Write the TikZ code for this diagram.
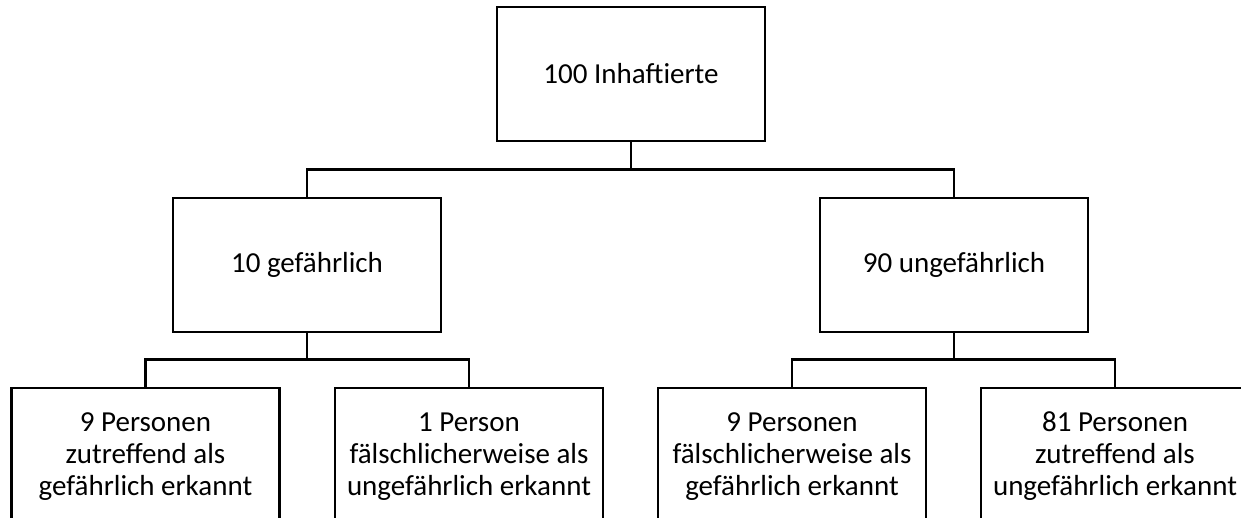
\documentclass[tikz,border=0pt]{standalone}
\usepackage{fontspec}
\setmainfont{Carlito}
\begin{document}
\begin{tikzpicture}[x=1pt,y=-1pt,
  box/.style={draw=black, line width=2.6pt, rectangle, minimum width=268pt, minimum height=134pt, inner sep=0pt, align=center, font=\fontsize{29}{32}\selectfont},
  leafbox/.style={box, minimum height=137pt},
  conn/.style={draw=black, line width=2.6pt}]
\useasboundingbox (0,0) rectangle (1241,518);
\fill[white] (0,0) rectangle (1241,518);
\begin{scope}
\clip (0,0) rectangle (1241,518);
\node[box] (top) at (631,74) {100 Inhaftierte};
\node[box] (g) at (307,265) {10 gefährlich};
\node[box] (u) at (954,265) {90 ungefährlich};
\node[leafbox] (g1) at (145.5,456.5) {9 Personen\\zutreffend als\\gefährlich erkannt};
\node[leafbox] (g2) at (469,456.5) {1 Person\\fälschlicherweise als\\ungefährlich erkannt};
\node[leafbox] (u1) at (792,456.5) {9 Personen\\fälschlicherweise als\\gefährlich erkannt};
\node[leafbox] (u2) at (1115,456.5) {81 Personen\\zutreffend als\\ungefährlich erkannt};
\coordinate (j1) at (631,169.5);
\coordinate (j2) at (307,359.5);
\coordinate (j3) at (954,359.5);
\draw[conn] (top.south) -- (j1);
\draw[conn] (g.north) |- (j1) -| (u.north);
\draw[conn] (g.south) -- (j2);
\draw[conn] (g1.north) |- (j2) -| (g2.north);
\draw[conn] (u.south) -- (j3);
\draw[conn] (u1.north) |- (j3) -| (u2.north);
\end{scope}
\end{tikzpicture}
\end{document}
